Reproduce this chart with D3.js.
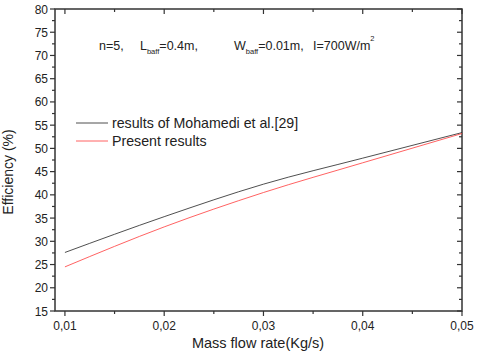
<!DOCTYPE html>
<html><head><meta charset="utf-8">
<script src="https://cdn.jsdelivr.net/npm/d3@7"></script>
<style>body{margin:0;background:#fff}svg{display:block}text{font-family:Arial,"Liberation Sans",sans-serif;fill:#222}</style>
</head><body>
<script>
const massFlow = [0.01, 0.02, 0.03, 0.04, 0.05];
const mohamedi = [27.6, 35.3, 42.3, 47.9, 53.4];
const present = [24.5, 33.1, 40.5, 46.9, 53.2];
const xTicks = [0.01, 0.02, 0.03, 0.04, 0.05];
const xTickLabels = ["0,01", "0,02", "0,03", "0,04", "0,05"];
const yTicks = [15, 20, 25, 30, 35, 40, 45, 50, 55, 60, 65, 70, 75, 80];
const seriesNames = ["results of Mohamedi et al.[29]", "Present results"];
const seriesColors = ["#222222", "#ff3a3a"];

const W = 480, H = 358;
const L = 55, R = 462, T = 9, B = 311;
const svg = d3.select("body").append("svg").attr("width", W).attr("height", H);
const x = d3.scaleLinear().domain([0.009, 0.05]).range([L, R]);
const y = d3.scaleLinear().domain([15, 80]).range([B, T]);

const axisColor = "#333";
const xMinor = d3.range(0.015, 0.05, 0.01);
const yMinor = d3.range(17.5, 80, 5);

const g = svg.append("g");
[...xTicks.map(v => [v, 5]), ...xMinor.map(v => [v, 3])].forEach(([v, len]) => {
  g.append("line").attr("x1", x(v)).attr("x2", x(v)).attr("y1", B).attr("y2", B + len).attr("stroke", axisColor).attr("stroke-width", 1.2);
  g.append("line").attr("x1", x(v)).attr("x2", x(v)).attr("y1", T).attr("y2", T + len).attr("stroke", axisColor).attr("stroke-width", 1.2);
});
[...yTicks.map(v => [v, 5]), ...yMinor.map(v => [v, 3])].forEach(([v, len]) => {
  g.append("line").attr("x1", L - len).attr("x2", L).attr("y1", y(v)).attr("y2", y(v)).attr("stroke", axisColor).attr("stroke-width", 1.2);
  g.append("line").attr("x1", R - len).attr("x2", R).attr("y1", y(v)).attr("y2", y(v)).attr("stroke", axisColor).attr("stroke-width", 1.2);
});
svg.append("rect").attr("x", L).attr("y", T).attr("width", R - L).attr("height", B - T)
  .attr("fill", "none").attr("stroke", axisColor).attr("stroke-width", 1.5);

svg.selectAll(".xl").data(xTicks).enter().append("text")
  .attr("x", d => x(d)).attr("y", B + 19).attr("text-anchor", "middle")
  .attr("font-size", 12).text((d, i) => xTickLabels[i]);
svg.selectAll(".yl").data(yTicks).enter().append("text")
  .attr("x", L - 7).attr("y", d => y(d) + 4.5).attr("text-anchor", "end")
  .attr("font-size", 12).text(d => d);

svg.append("text").attr("x", 258).attr("y", 348).attr("text-anchor", "middle")
  .attr("font-size", 14.5).text("Mass flow rate(Kg/s)");
svg.append("text").attr("transform", "translate(13,172) rotate(-90)").attr("text-anchor", "middle")
  .attr("font-size", 14).text("Efficiency (%)");

const line = d3.line().x(d => x(d[0])).y(d => y(d[1])).curve(d3.curveMonotoneX);
[mohamedi, present].forEach((vals, i) => {
  svg.append("path").datum(massFlow.map((m, j) => [m, vals[j]]))
    .attr("d", line).attr("fill", "none").attr("stroke", seriesColors[i]).attr("stroke-width", 0.8);
});

seriesNames.forEach((name, i) => {
  const ly = 123 + i * 18;
  svg.append("line").attr("x1", 76).attr("x2", 108).attr("y1", ly).attr("y2", ly)
    .attr("stroke", seriesColors[i]).attr("stroke-width", 0.8);
  svg.append("text").attr("x", 112).attr("y", ly + 5).attr("font-size", 14.2).text(name);
});

const annFont = "'Open Sans', 'DejaVu Sans', sans-serif";
function ann(xp, main, sub, sup) {
  const t = svg.append("text").attr("x", xp).attr("y", 50).attr("font-size", 12.5).attr("font-family", annFont);
  t.append("tspan").text(main[0]);
  if (sub) { t.append("tspan").attr("font-size", 7.5).attr("dy", 4).text(sub); t.append("tspan").attr("dy", -4).text(main[1]); }
  if (sup) t.append("tspan").attr("font-size", 7.5).attr("dy", -9).text(sup);
}
ann(99, ["n=5,"]);
ann(140, ["L", "=0.4m,"], "baff");
ann(234, ["W", "=0.01m,"], "baff");
ann(313, ["I=700W/m"], null, "2");
</script>
</body></html>
